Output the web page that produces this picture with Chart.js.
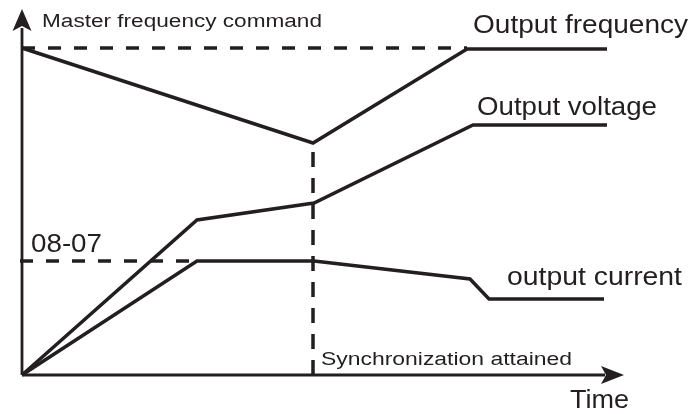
<!DOCTYPE html>
<html>
<head>
<meta charset="utf-8">
<script src="https://cdn.jsdelivr.net/npm/chart.js@4"></script>
<style>
  html, body { margin: 0; padding: 0; background: #fff; }
  canvas { display: block; }
</style>
</head>
<body>
<canvas id="c" width="691" height="414"></canvas>
<script>
// time / level units: 0..600 along time, 0..365 along level
var freqT = [0, 291, 445, 585];
var freqV = [327, 232, 326, 326];
var voltT = [0, 175, 292, 451, 585];
var voltV = [0, 155, 172, 250, 250];
var currT = [0, 175, 292, 448, 467, 582];
var currV = [0, 114, 114, 96, 76, 76];
var masterT = [0, 445];
var masterV = [327, 327];
var limitT = [-2, 175];
var limitV = [114, 114];
var syncT = [291, 291];
var syncV = [0, 232];

var INK = '#231f20';

function pts(t, v) {
  return t.map(function (x, i) { return { x: x, y: v[i] }; });
}

function solid(t, v) {
  return { data: pts(t, v), borderColor: INK, borderWidth: 3.5, pointRadius: 0, tension: 0, fill: false };
}

function dashed(t, v, dash) {
  var d = solid(t, v);
  d.borderDash = dash;
  d.borderCapStyle = 'butt';
  return d;
}

// text: [string, left x px, baseline y px, font px, target width px]
var labels = [
  ['Master frequency command', 42, 27, 18, 280],
  ['Output frequency', 473, 33, 25, 215],
  ['Output voltage', 477, 115, 25, 180],
  ['output current', 507, 285, 25, 175],
  ['08-07', 31, 252, 25, 71],
  ['Synchronization attained', 321, 365, 18, 251],
  ['Time', 570, 408, 25, 59]
];

var decor = {
  id: 'decor',
  afterDatasetsDraw: function (chart) {
    var ctx = chart.ctx;
    var xs = chart.scales.x, ys = chart.scales.y;
    var x0 = xs.getPixelForValue(0), y0 = ys.getPixelForValue(0);
    ctx.save();
    ctx.strokeStyle = INK;
    ctx.fillStyle = INK;
    ctx.lineWidth = 2.8;
    // axes
    ctx.beginPath();
    ctx.moveTo(x0, y0);
    ctx.lineTo(x0, 28);
    ctx.moveTo(x0, y0);
    ctx.lineTo(605, y0);
    ctx.stroke();
    // y arrow
    ctx.beginPath();
    ctx.moveTo(x0, 9);
    ctx.lineTo(x0 + 9.5, 31);
    ctx.lineTo(x0, 26);
    ctx.lineTo(x0 - 9.5, 31);
    ctx.closePath();
    ctx.fill();
    // x arrow
    ctx.beginPath();
    ctx.moveTo(624, y0);
    ctx.lineTo(601, y0 - 9);
    ctx.lineTo(606, y0);
    ctx.lineTo(601, y0 + 9);
    ctx.closePath();
    ctx.fill();
    // labels
    ctx.textBaseline = 'alphabetic';
    ctx.textAlign = 'left';
    labels.forEach(function (l) {
      ctx.font = l[3] + 'px "Liberation Sans", Arial, sans-serif';
      var w = ctx.measureText(l[0]).width;
      ctx.save();
      ctx.translate(l[1], l[2]);
      ctx.scale(l[4] / w, 1);
      ctx.fillText(l[0], 0, 0);
      ctx.restore();
    });
    ctx.restore();
  }
};

new Chart(document.getElementById('c').getContext('2d'), {
  type: 'line',
  data: {
    datasets: [
      dashed(masterT, masterV, [13, 13]),
      dashed(limitT, limitV, [13, 13]),
      dashed(syncT, syncV, [15, 11]),
      solid(freqT, freqV),
      solid(voltT, voltV),
      solid(currT, currV)
    ]
  },
  options: {
    responsive: false,
    animation: false,
    clip: false,
    layout: { padding: { left: 22, right: 69, top: 10, bottom: 39 } },
    scales: {
      x: { type: 'linear', min: 0, max: 600, display: false },
      y: { type: 'linear', min: 0, max: 365, display: false }
    },
    plugins: { legend: { display: false }, tooltip: { enabled: false } }
  },
  plugins: [decor]
});
</script>
</body>
</html>
